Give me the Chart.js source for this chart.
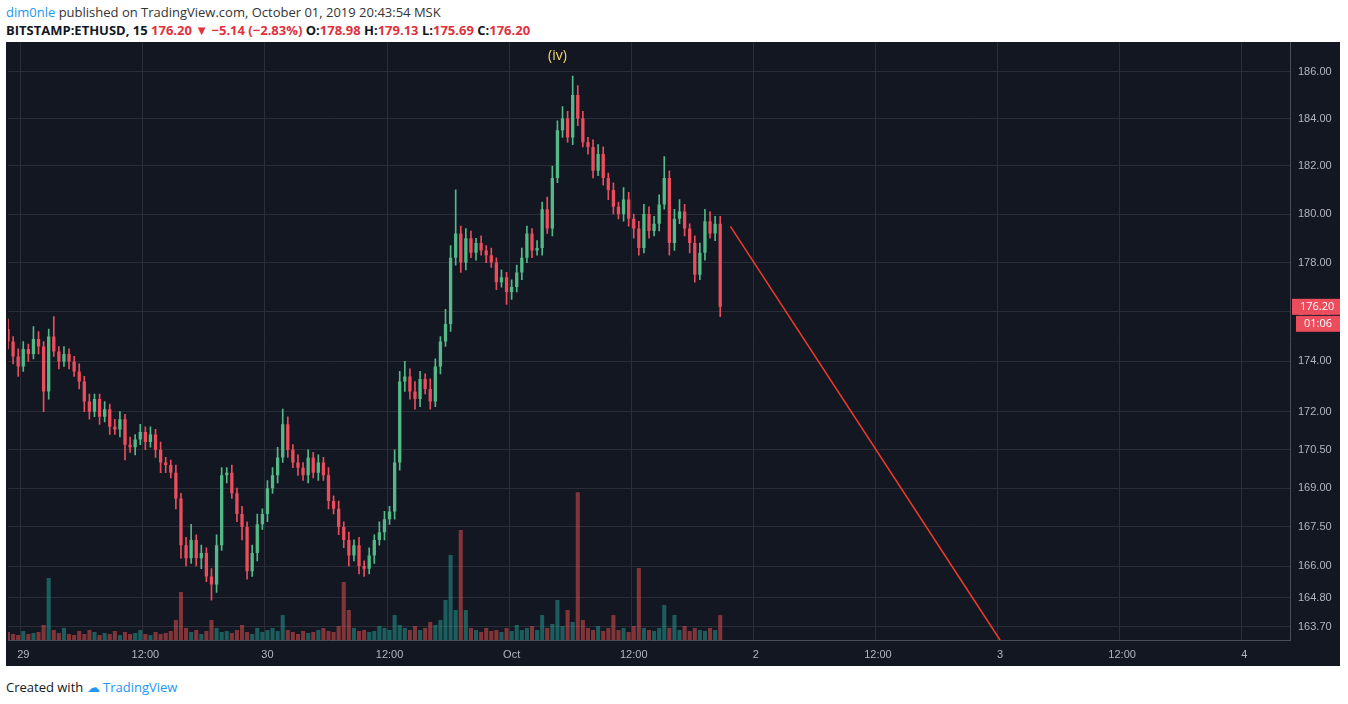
<!DOCTYPE html>
<html><head><meta charset="utf-8">
<script src="https://cdn.jsdelivr.net/npm/chart.js@4/dist/chart.umd.min.js"></script>
<style>
body{margin:0;background:#fff;font-family:"Open Sans","Liberation Sans",sans-serif;width:1348px;height:704px;position:relative;overflow:hidden}
#h1{position:absolute;left:6px;top:3px;font-size:13px;color:#333}
#h1 b{color:#2196f3;font-weight:normal}
#h2{position:absolute;left:6px;top:21px;font-size:13px;font-weight:bold;color:#131722}
#h2 .r{color:#e0313c}
#box{position:absolute;left:6px;top:42px;width:1334px;height:624px;background:#131722;overflow:hidden}
#c{position:absolute;left:-6px;top:-14px}
#foot{position:absolute;left:6px;top:678px;font-size:13px;color:#131722}
#foot span{color:#2196f3}
</style></head><body>
<div id="h1"><b>dim0nle</b> published on TradingView.com, October 01, 2019 20:43:54 MSK</div>
<div id="h2">BITSTAMP:ETHUSD, 15 <span class="r">176.20 ▼ −5.14 (−2.83%)</span> O:<span class="r">178.98</span> H:<span class="r">179.13</span> L:<span class="r">175.69</span> C:<span class="r">176.20</span></div>
<div id="box"><canvas id="c" width="1340" height="638"></canvas></div>
<div id="foot">Created with <span>☁ TradingView</span></div>
<script>
const firstOpen = 175.3;
const closes = [174.8,174.2,173.8,174.5,174.3,174.9,174.6,172.8,175.0,174.4,
174.0,174.3,174.0,173.6,173.2,172.4,172.0,172.5,171.8,172.1,
171.4,171.3,171.7,170.7,170.6,170.9,171.2,170.8,171.1,170.5,
170.0,169.9,169.6,168.6,166.8,166.3,167.0,166.3,166.5,165.6,
165.3,166.8,169.5,169.6,168.8,168.0,167.5,165.8,166.5,167.6,
168.0,169.0,169.5,170.2,171.5,170.5,170.0,169.8,169.5,170.2,
169.6,170.0,169.5,168.5,168.2,167.5,167.0,166.4,166.8,166.0,
165.9,166.4,167.0,167.3,167.8,168.1,170.0,173.2,173.4,172.8,
172.5,173.3,172.9,172.4,173.8,174.8,175.5,178.2,179.2,178.0,
179.0,178.4,178.8,178.5,178.3,178.0,177.2,177.4,176.8,177.0,
177.6,178.2,179.2,178.5,178.6,180.2,179.4,181.5,183.5,184.0,
183.2,185.0,184.0,183.0,182.8,181.8,182.5,181.5,181.0,180.3,
180.0,180.6,179.8,179.4,178.6,180.0,179.3,179.6,180.4,181.5,
178.8,179.8,180.1,179.4,178.8,177.5,178.4,179.7,179.2,179.6,176.2];
const wickUp = [0.4,0.2,0.3,0.3,0.2,0.5,0.3,0.2,0.3,0.8,
0.2,0.3,0.2,0.2,0.3,0.2,0.3,0.2,0.2,0.3,
0.2,0.3,0.3,0.2,0.3,0.2,0.3,0.2,0.3,0.2,
0.3,0.2,0.2,0.3,0.2,0.3,0.6,0.2,0.3,0.2,
0.3,0.4,0.3,0.2,0.3,0.2,0.3,0.2,0.3,0.4,
0.2,0.3,0.3,0.4,0.6,0.3,0.2,0.3,0.2,0.3,
0.2,0.3,0.2,0.3,0.2,0.3,0.2,0.3,0.2,0.3,
0.2,0.3,0.2,0.4,0.3,0.2,0.5,0.4,0.6,0.3,
0.4,0.3,0.2,0.4,0.3,0.2,0.6,0.5,1.8,0.3,
0.4,0.3,0.2,0.3,0.2,0.3,0.2,0.3,0.2,0.3,
0.3,0.4,0.3,0.2,0.3,0.3,0.5,0.5,0.4,0.5,
0.3,0.8,0.4,0.3,0.2,0.3,0.4,0.3,0.2,0.3,
0.2,0.5,0.3,0.2,0.3,0.4,0.3,0.3,0.4,0.9,
0.3,0.4,0.5,0.3,0.2,0.3,0.4,0.5,0.4,0.3,0.3];
const wickDn = [0.3,0.3,0.4,0.2,0.3,0.2,0.3,0.8,0.3,0.2,
0.3,0.2,0.3,0.2,0.3,0.4,0.3,0.2,0.3,0.2,
0.3,0.2,0.3,0.6,0.2,0.3,0.2,0.3,0.2,0.3,
0.4,0.3,0.2,0.4,0.5,0.3,0.2,0.3,0.4,0.2,
0.6,0.3,0.2,0.3,0.2,0.3,0.5,0.3,0.2,0.3,
0.2,0.3,0.2,0.3,0.2,0.3,0.2,0.3,0.2,0.3,
0.2,0.3,0.2,0.3,0.2,0.3,0.3,0.4,0.2,0.3,
0.3,0.2,0.3,0.2,0.3,0.2,0.3,0.3,0.4,0.3,
0.4,0.3,0.2,0.3,0.2,0.3,0.2,0.3,0.3,0.4,
0.3,0.2,0.3,0.2,0.3,0.2,0.3,0.2,0.5,0.3,
0.2,0.3,0.2,0.3,0.2,0.3,0.2,0.3,0.2,0.3,
0.2,0.3,0.3,0.2,0.3,0.3,0.2,0.3,0.4,0.3,
0.2,0.3,0.3,0.4,0.3,0.2,0.3,0.2,0.3,0.2,
0.5,0.3,0.2,0.3,0.4,0.3,0.2,0.3,0.2,0.3,0.4];
const volumes = [8,6,5,9,6,7,8,15,62,10,
7,12,6,5,9,6,10,8,5,7,
6,9,5,8,6,7,10,6,5,8,
6,7,9,20,48,12,8,10,6,9,
20,12,8,9,7,10,15,8,6,12,
8,10,12,9,25,10,8,6,9,7,
8,10,12,9,8,14,58,30,12,9,
10,8,9,14,12,10,25,15,12,10,
14,10,12,18,15,20,40,85,30,110,
30,12,10,8,12,9,10,8,12,9,
15,10,12,14,10,25,12,16,40,14,
30,18,148,20,12,10,14,9,12,25,
10,12,8,14,72,12,10,9,12,35,
12,25,10,14,9,12,10,9,12,10,25];

const gridPrices = [186,184,182,180,178,176,174,172,170.5,169,167.5,166,164.8,163.7];
const trendLine = [{x:142,y:179.49},{x:195,y:163.2}];
const lastPrice = 176.20, countdown = "01:06";

const N = 253;
const labels = Array.from({length:N},(_,i)=>i);
const hourOf = i => -1.5 + 0.5*i;
function tickLabel(i){const h=hourOf(i);if(h%12!==0)return '';const m={0:'29',24:'30',48:'Oct',72:'2',96:'3',120:'4'};return h%24===0?m[h]:'12:00';}
const opens = closes.map((c,i)=>i===0?firstOpen:closes[i-1]);
const up = closes.map((c,i)=>c>=opens[i]);
const G='#53b987', R='#eb4d5c';
const bodies = closes.map((c,i)=>[opens[i], c===opens[i]?c+0.05:c]);
const wicks = closes.map((c,i)=>[Math.min(opens[i],c)-wickDn[i], Math.max(opens[i],c)+wickUp[i]]);
const colors = up.map(u=>u?G:R);
const vcolors = up.map(u=>u?'rgba(38,166,154,0.5)':'rgba(239,83,80,0.5)');

const overlay = {id:'ov',afterDraw(ch){
  const c=ch.ctx, y=ch.scales.y, x=ch.scales.x, ca=ch.chartArea;
  c.save();
  const py=y.getPixelForValue(lastPrice);
  c.fillStyle=R; c.fillRect(ca.right+2,py-8,48,16); c.fillRect(ca.right+6,py+9,44,16);
  c.fillStyle='#fff'; c.font='11px "Open Sans",sans-serif'; c.textBaseline='middle';
  c.fillText(lastPrice.toFixed(2),ca.right+10,py); c.fillText(countdown,ca.right+14,py+17);
  c.fillStyle='#f5d76e'; c.font='14px "Open Sans",sans-serif'; c.textAlign='center';
  c.fillText('(iv)', x.getPixelForValue(108), 28);
  c.restore();
}};

new Chart(document.getElementById('c'),{
  type:'bar',
  data:{labels,datasets:[
    {type:'line',data:trendLine,borderColor:'#f23a2a',borderWidth:1.5,pointRadius:0,yAxisID:'y',order:0},
    {data:bodies,backgroundColor:colors,barPercentage:0.65,categoryPercentage:1,grouped:false,yAxisID:'y',order:1},
    {data:wicks,backgroundColor:colors,barThickness:1,grouped:false,yAxisID:'y',order:2},
    {data:volumes,backgroundColor:vcolors,barPercentage:0.8,categoryPercentage:1,grouped:false,yAxisID:'v',order:3}
  ]},
  options:{responsive:false,animation:false,
    layout:{padding:0},
    plugins:{legend:{display:false},tooltip:{enabled:false}},
    scales:{
      x:{type:'category',offset:false,
        afterFit:s=>{s.height=26;},
        grid:{color:c=>tickLabel(c.index)?'#2a2e39':'transparent',drawTicks:false},
        border:{color:'#4a4e59'},
        ticks:{autoSkip:false,maxRotation:0,color:'#b2b5be',font:{size:11},padding:8,callback:(v,i)=>tickLabel(i)}},
      y:{type:'logarithmic',position:'right',min:163.2,max:187.24,
        afterBuildTicks:s=>{s.ticks=gridPrices.map(v=>({value:v}));},
        afterFit:s=>{s.width=50;},
        grid:{color:'#2a2e39',drawTicks:false},border:{color:'#4a4e59'},
        ticks:{color:'#b2b5be',font:{size:11},padding:8,callback:v=>Number(v).toFixed(2)}},
      v:{display:false,min:0,max:598}
    }},
  plugins:[overlay]
});
</script></body></html>
